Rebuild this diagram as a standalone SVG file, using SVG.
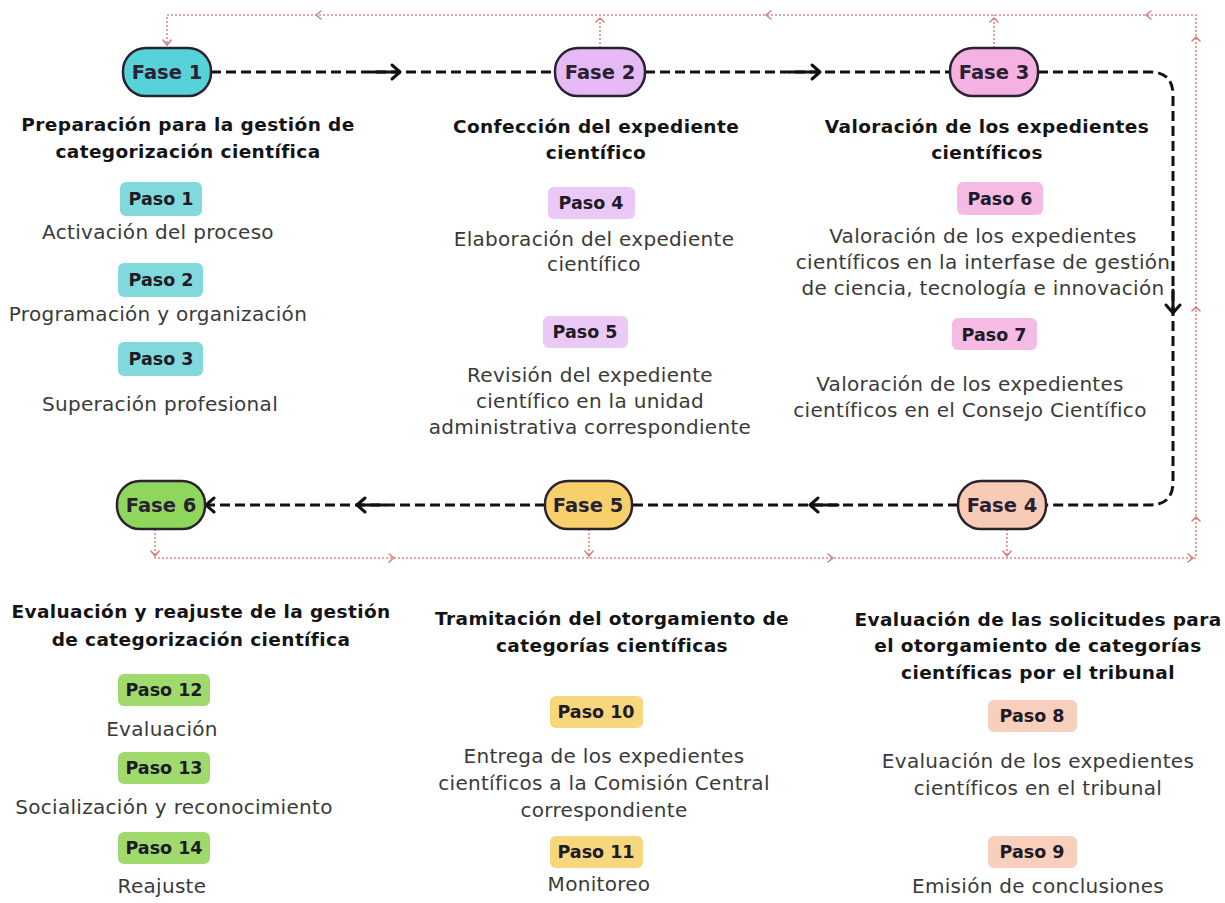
<svg xmlns="http://www.w3.org/2000/svg" width="1225" height="903" viewBox="0 0 1225 903">
<style>
.bg{fill:#ffffff}
.fase rect{stroke:#2a2230;stroke-width:2.5}
.fase text{font-family:"DejaVu Sans","Liberation Sans",sans-serif;font-weight:700;font-size:19.5px;fill:#2a1f33;text-anchor:middle}
.h{font-family:"DejaVu Sans","Liberation Sans",sans-serif;font-weight:700;font-size:18.5px;letter-spacing:0.4px;fill:#141414;text-anchor:middle}
.b{font-family:"DejaVu Sans","Liberation Sans",sans-serif;font-weight:400;font-size:20px;letter-spacing:0.3px;fill:#3a3a3a;text-anchor:middle}
.p{font-family:"DejaVu Sans","Liberation Sans",sans-serif;font-weight:700;font-size:17.5px;fill:#1e1a26;text-anchor:middle}
.dash{fill:none;stroke:#111;stroke-width:3;stroke-dasharray:10 5}
.ah{fill:none;stroke:#111;stroke-width:3;stroke-linecap:round;stroke-linejoin:round}
.dot{fill:none;stroke:#d98a8a;stroke-width:1.6;stroke-dasharray:2 2}
.rh{fill:none;stroke:#d77f7f;stroke-width:1.6;stroke-linecap:round;stroke-linejoin:round}
.c1{fill:#55d3d8}.c2{fill:#e5b9f4}.c3{fill:#f4b1e1}.c4{fill:#f8cbb6}.c5{fill:#f7d06c}.c6{fill:#8fd65c}
.b1{fill:#82d9dd}.b2{fill:#ebc9f6}.b3{fill:#f6bbe5}.b4{fill:#f8cfbb}.b5{fill:#f7d77b}.b6{fill:#a0da6c}
</style>
<rect class="bg" x="0" y="0" width="1225" height="903"/>

<g id="connectors">
  <path class="dash" d="M211 72 H555"/>
  <path class="dash" d="M645 72 H950"/>
  <path class="dash" d="M1038 72 H1150 Q1173 72 1173 95 V482 Q1173 505 1150 505 H1046"/>
  <path class="dash" d="M958 505 H632"/>
  <path class="dash" d="M545 505 H207"/>
  <path class="ah" d="M372 72 H400 M392 65 L400 72 L392 79"/>
  <path class="ah" d="M790 72 H820 M812 65 L820 72 L812 79"/>
  <path class="ah" d="M1173 290 V313 M1166 305 L1173 313 L1180 305"/>
  <path class="ah" d="M838 505 H810 M818 498 L810 505 L818 512"/>
  <path class="ah" d="M385 505 H357 M365 498 L357 505 L365 512"/>
  <path class="ah" d="M214 498 L206 505 L214 512"/>
  <path class="dot" d="M155 529 V558 H1196 V15 H167 V46"/>
  <path class="dot" d="M589 529 V558"/>
  <path class="dot" d="M1007 529 V558"/>
  <path class="dot" d="M600 48 V15"/>
  <path class="dot" d="M994 48 V15"/>
  <path class="rh" d="M163 40 L167 45 L171 40"/>
  <path class="rh" d="M321 11 L316 15 L321 19"/>
  <path class="rh" d="M771 11 L766 15 L771 19"/>
  <path class="rh" d="M1151 11 L1146 15 L1151 19"/>
  <path class="rh" d="M596 22 L600 18 L604 22"/>
  <path class="rh" d="M990 22 L994 18 L998 22"/>
  <path class="rh" d="M1192 41 L1196 37 L1200 41"/>
  <path class="rh" d="M1192 311 L1196 307 L1200 311"/>
  <path class="rh" d="M1192 521 L1196 517 L1200 521"/>
  <path class="rh" d="M151 551 L155 556 L159 551"/>
  <path class="rh" d="M585 551 L589 556 L593 551"/>
  <path class="rh" d="M1003 551 L1007 556 L1011 551"/>
  <path class="rh" d="M389 554 L394 558 L389 562"/>
  <path class="rh" d="M828 554 L833 558 L828 562"/>
  <path class="rh" d="M1188 554 L1193 558 L1188 562"/>
</g>

<g id="fase1" class="fase"><rect class="c1" x="123" y="48" width="88" height="48" rx="23"/><text x="167" y="79">Fase 1</text></g>
<g id="fase2" class="fase"><rect class="c2" x="555" y="48" width="90" height="48" rx="23"/><text x="600" y="79">Fase 2</text></g>
<g id="fase3" class="fase"><rect class="c3" x="950" y="48" width="88" height="48" rx="23"/><text x="994" y="79">Fase 3</text></g>
<g id="fase4" class="fase"><rect class="c4" x="958" y="481" width="88" height="48" rx="23"/><text x="1002" y="512">Fase 4</text></g>
<g id="fase5" class="fase"><rect class="c5" x="545" y="481" width="87" height="48" rx="23"/><text x="588" y="512">Fase 5</text></g>
<g id="fase6" class="fase"><rect class="c6" x="117" y="481" width="88" height="48" rx="23"/><text x="161" y="512">Fase 6</text></g>

<g id="col1">
  <text class="h" x="188" y="131">Preparación para la gestión de</text>
  <text class="h" x="188" y="158">categorización científica</text>
  <rect class="b1" x="120" y="182" width="82" height="34" rx="6"/><text class="p" x="161" y="205">Paso 1</text>
  <text class="b" x="158" y="239">Activación del proceso</text>
  <rect class="b1" x="118" y="263" width="85" height="34" rx="6"/><text class="p" x="161" y="286">Paso 2</text>
  <text class="b" x="158" y="321">Programación y organización</text>
  <rect class="b1" x="118" y="342" width="85" height="34" rx="6"/><text class="p" x="161" y="365">Paso 3</text>
  <text class="b" x="160" y="411">Superación profesional</text>
</g>

<g id="col2">
  <text class="h" x="596" y="133">Confección del expediente</text>
  <text class="h" x="596" y="159">científico</text>
  <rect class="b2" x="548" y="187" width="87" height="32" rx="6"/><text class="p" x="591" y="209">Paso 4</text>
  <text class="b" x="594" y="246">Elaboración del expediente</text>
  <text class="b" x="594" y="271">científico</text>
  <rect class="b2" x="543" y="316" width="85" height="32" rx="6"/><text class="p" x="585" y="338">Paso 5</text>
  <text class="b" x="590" y="382">Revisión del expediente</text>
  <text class="b" x="590" y="408">científico en la unidad</text>
  <text class="b" x="590" y="434">administrativa correspondiente</text>
</g>

<g id="col3">
  <text class="h" x="987" y="133">Valoración de los expedientes</text>
  <text class="h" x="987" y="159">científicos</text>
  <rect class="b3" x="957" y="182" width="86" height="33" rx="6"/><text class="p" x="1000" y="205">Paso 6</text>
  <text class="b" x="983" y="243">Valoración de los expedientes</text>
  <text class="b" x="983" y="269">científicos en la interfase de gestión</text>
  <text class="b" x="983" y="295">de ciencia, tecnología e innovación</text>
  <rect class="b3" x="952" y="318" width="85" height="32" rx="6"/><text class="p" x="994" y="341">Paso 7</text>
  <text class="b" x="970" y="391">Valoración de los expedientes</text>
  <text class="b" x="970" y="417">científicos en el Consejo Científico</text>
</g>

<g id="col6">
  <text class="h" x="201" y="618">Evaluación y reajuste de la gestión</text>
  <text class="h" x="201" y="646">de categorización científica</text>
  <rect class="b6" x="118" y="674" width="92" height="32" rx="6"/><text class="p" x="164" y="696">Paso 12</text>
  <text class="b" x="162" y="736">Evaluación</text>
  <rect class="b6" x="118" y="752" width="92" height="32" rx="6"/><text class="p" x="164" y="774">Paso 13</text>
  <text class="b" x="174" y="814">Socialización y reconocimiento</text>
  <rect class="b6" x="118" y="832" width="92" height="32" rx="6"/><text class="p" x="164" y="854">Paso 14</text>
  <text class="b" x="162" y="893">Reajuste</text>
</g>

<g id="col5">
  <text class="h" x="612" y="625">Tramitación del otorgamiento de</text>
  <text class="h" x="612" y="652">categorías científicas</text>
  <rect class="b5" x="550" y="696" width="93" height="32" rx="6"/><text class="p" x="596" y="718">Paso 10</text>
  <text class="b" x="604" y="763">Entrega de los expedientes</text>
  <text class="b" x="604" y="790">científicos a la Comisión Central</text>
  <text class="b" x="604" y="817">correspondiente</text>
  <rect class="b5" x="550" y="836" width="93" height="32" rx="6"/><text class="p" x="596" y="858">Paso 11</text>
  <text class="b" x="599" y="891">Monitoreo</text>
</g>

<g id="col4">
  <text class="h" x="1038" y="626">Evaluación de las solicitudes para</text>
  <text class="h" x="1038" y="652">el otorgamiento de categorías</text>
  <text class="h" x="1038" y="679">científicas por el tribunal</text>
  <rect class="b4" x="988" y="700" width="89" height="32" rx="6"/><text class="p" x="1032" y="722">Paso 8</text>
  <text class="b" x="1038" y="768">Evaluación de los expedientes</text>
  <text class="b" x="1038" y="795">científicos en el tribunal</text>
  <rect class="b4" x="988" y="836" width="89" height="32" rx="6"/><text class="p" x="1032" y="858">Paso 9</text>
  <text class="b" x="1038" y="893">Emisión de conclusiones</text>
</g>
</svg>
